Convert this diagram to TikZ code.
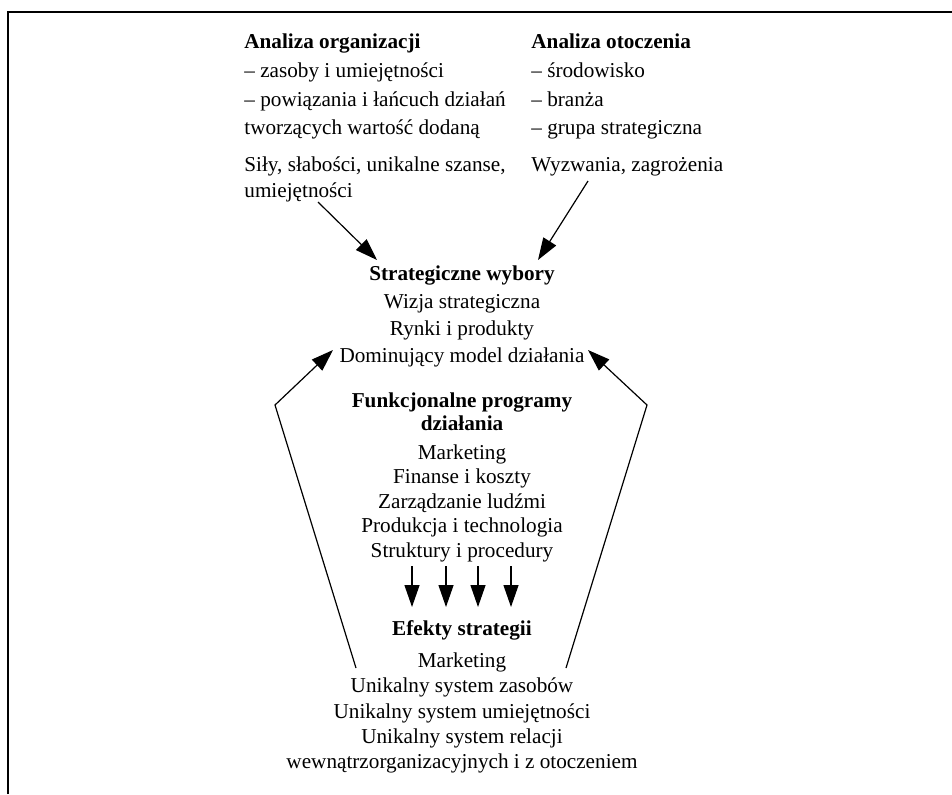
\documentclass[tikz,border=0pt]{standalone}
\usepackage{fontspec}
\setmainfont{Liberation Serif}
\usetikzlibrary{arrows.meta}

\begin{document}
\begin{tikzpicture}[x=0.5pt,y=-0.5pt]
\def\l{11pt}
\def\w{7.5pt}
\def\t{0pt}

\useasboundingbox (0,0) rectangle (952,794);
\draw [line width=0.9pt] (8,794) -- (8,12) -- (952,12);

\node [align=left, anchor=north west, inner sep=\t, font=\fontsize{10.6}{14.35}\selectfont, name=org]    at (244,33.5) {\textbf{Analiza organizacji}\\– zasoby i umiejętności\\– powiązania i łańcuch działań\\tworzących wartość dodaną};
\node [align=left, anchor=north west, inner sep=\t, font=\fontsize{10.6}{13}\selectfont, name=sily]     at (244,156) {Siły, słabości, unikalne szanse,\\umiejętności};
\node [align=left, anchor=north west, inner sep=\t, font=\fontsize{10.6}{14.35}\selectfont, name=otocz]  at (531,33.5) {\textbf{Analiza otoczenia}\\– środowisko\\– branża\\– grupa strategiczna};
\node [align=left, anchor=north west, inner sep=\t, font=\fontsize{10.6}{13}\selectfont, name=wyzw]     at (531,157) {Wyzwania, zagrożenia};
\node [align=center, anchor=north, inner sep=\t, font=\fontsize{10.6}{13.65}\selectfont, name=wybory]   at (462,265.7) {\textbf{Strategiczne wybory}\\Wizja strategiczna\\Rynki i produkty\\Dominujący model działania};
\node [align=center, anchor=north, inner sep=\t, font=\fontsize{10.6}{12.25}\selectfont, name=prog]     at (462,392) {\textbf{Funkcjonalne programy}\\[-0.75pt]\textbf{działania}\\[2.25pt]Marketing\\Finanse i koszty\\Zarządzanie ludźmi\\Produkcja i technologia\\Struktury i procedury};
\node [align=center, anchor=north, inner sep=\t, font=\fontsize{10.6}{12.65}\selectfont, name=efekty]   at (462,620.4) {\textbf{Efekty strategii}\\[3.3pt]Marketing\\Unikalny system zasobów\\Unikalny system umiejętności\\Unikalny system relacji\\wewnątrzorganizacyjnych i z otoczeniem};

\coordinate (s1) at (318,202);
\coordinate (s2) at (377,260);
\coordinate (z1) at (588,181);
\coordinate (z2) at (538,260);
\coordinate (l1) at (356,668);
\coordinate (l2) at (275,405);
\coordinate (l3) at (333,350);
\coordinate (r1) at (566,668);
\coordinate (r2) at (647,405);
\coordinate (r3) at (588,350);

\draw [line width=0.6pt, -{Triangle[length=\l, width=\w]}](s1) to (s2);
\draw [line width=0.6pt, -{Triangle[length=\l, width=\w]}](z1) to (z2);
\draw [line width=0.6pt, -{Triangle[length=\l, width=\w]}](l1) -- (l2) -- (l3);
\draw [line width=0.6pt, -{Triangle[length=\l, width=\w]}](r1) -- (r2) -- (r3);
\draw [line width=0.6pt, -{Triangle[length=\l, width=\w]}](412,566) to (412,607);
\draw [line width=0.6pt, -{Triangle[length=\l, width=\w]}](446,566) to (446,607);
\draw [line width=0.6pt, -{Triangle[length=\l, width=\w]}](478,566) to (478,607);
\draw [line width=0.6pt, -{Triangle[length=\l, width=\w]}](511,566) to (511,607);
\end{tikzpicture}
\end{document}
